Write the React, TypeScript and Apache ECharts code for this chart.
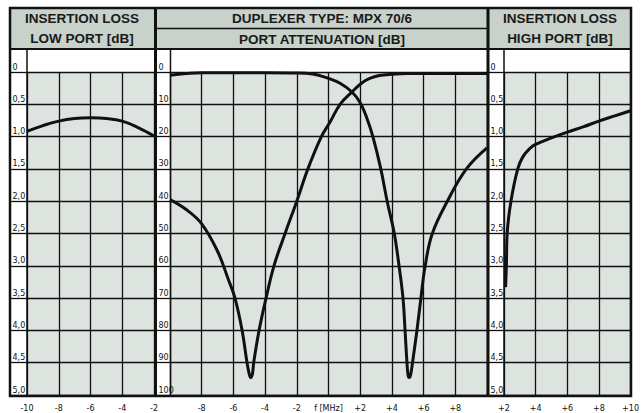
import React, { useEffect, useRef } from "react";
import * as echarts from "echarts";

// Low port insertion loss (dB) vs frequency offset (MHz)
const lowF = [-10, -9, -8, -7, -6, -5, -4, -3, -2];
const lowLoss = [0.92, 0.83, 0.76, 0.72, 0.71, 0.72, 0.76, 0.86, 0.99];

// Port attenuation (dB) – low port curve
const attLowF = [-10, -9, -8, -7, -6.3, -5.9, -5.45, -5.14, -5.0, -4.9, -4.8, -4.72, -4.38, -3.94, -3.44, -2.74, -2, -1.3, -0.45, 0.1, 0.73, 1.48, 2.1, 2.6, 3.2, 4, 5, 10];
const attLowDb = [39.5, 42.5, 47, 55.5, 64.5, 70, 80, 90, 93.5, 94.6, 93.5, 90, 80, 70, 60, 50, 40, 30, 20, 15.5, 10, 6.2, 3.4, 2, 1.1, 0.7, 0.5, 0.5];

// Port attenuation (dB) – high port curve
const attHighF = [-10, -9, -8, -6, -4, -2, -1, -0.5, 0, 0.73, 1.48, 2.0, 2.4, 2.8, 3.3, 3.7, 4.15, 4.45, 4.7, 4.83, 4.95, 5.02, 5.1, 5.18, 5.3, 5.58, 5.83, 6.1, 6.55, 7.5, 8.7, 10];
const attHighDb = [1.0, 0.5, 0.2, 0.2, 0.2, 0.3, 0.6, 1.2, 2.0, 3.5, 6.2, 9.5, 14, 20, 30, 40, 50, 60, 70, 80, 90, 93.8, 94.6, 93.8, 90, 80, 70, 60, 50, 40, 30, 23.5];

// High port insertion loss (dB)
const highF = [2.1, 2.15, 2.2, 2.44, 2.87, 3.2, 3.65, 4, 5, 6, 7, 8, 9, 10];
const highLoss = [3.33, 3.0, 2.5, 2.0, 1.5, 1.31, 1.18, 1.12, 1.02, 0.93, 0.85, 0.76, 0.68, 0.6];

const headerLeft = ["INSERTION LOSS", "LOW PORT [dB]"];
const headerMid = ["DUPLEXER TYPE: MPX 70/6", "PORT ATTENUATION [dB]"];
const headerRight = ["INSERTION LOSS", "HIGH PORT [dB]"];

const zip = (xs: number[], ys: number[]) => xs.map((x, i) => [x, ys[i]]);

export default function App() {
  const ref = useRef<HTMLDivElement>(null);
  useEffect(() => {
    if (!ref.current) return;
    const chart = echarts.init(ref.current, null, { renderer: "svg" });
    const TOP = 72;
    const H = 323;
    const plotBg = "#dde3df";
    const ink = "#111";
    const tickFont = { fontSize: 8, color: ink, fontFamily: "'DejaVu Sans', sans-serif" };
    const split = { show: true, lineStyle: { color: ink, width: 1.3 } };

    const grids = [
      { left: 11, top: TOP, width: 16, height: H }, // 0 L labels
      { left: 27, top: TOP, width: 127, height: H, show: true, backgroundColor: plotBg, borderWidth: 0 }, // 1 L plot
      { left: 157, top: TOP, width: 13, height: H }, // 2 M labels
      { left: 170, top: TOP, width: 317, height: H, show: true, backgroundColor: plotBg, borderWidth: 0 }, // 3 M plot
      { left: 489, top: TOP, width: 15, height: H }, // 4 R labels
      { left: 504, top: TOP, width: 127, height: H, show: true, backgroundColor: plotBg, borderWidth: 0 }, // 5 R plot
    ];

    const lossFmt = (v: number) => (v === 0 ? "0" : v.toFixed(1).replace(".", ","));
    const labelY = (gi: number, max: number, interval: number, fmt: (v: number) => string) => ({
      gridIndex: gi,
      type: "value",
      inverse: true,
      min: 0,
      max,
      interval,
      axisLine: { show: false },
      axisTick: { show: false },
      splitLine: split,
      z: 10,
      axisLabel: { inside: true, margin: 1.5, verticalAlign: "bottom", align: "left", formatter: fmt, ...tickFont, padding: [0, 0, 1, 0] },
    });
    const plotY = (gi: number, max: number, interval: number) => ({
      gridIndex: gi,
      type: "value",
      inverse: true,
      min: 0,
      max,
      interval,
      axisLine: { show: false },
      axisTick: { show: false },
      splitLine: split,
      axisLabel: { show: false },
    });
    const hiddenX = (gi: number) => ({ gridIndex: gi, type: "value", show: false, min: 0, max: 1 });
    const plotX = (gi: number, min: number, max: number, fmt: (v: number) => string) => ({
      gridIndex: gi,
      type: "value",
      position: "bottom",
      min,
      max,
      interval: 2,
      axisLine: { show: false },
      axisTick: { show: false },
      splitLine: split,
      axisLabel: { margin: 9, formatter: fmt, showMinLabel: true, showMaxLabel: true, ...tickFont },
    });

    const lineSeries = (gi: number, data: number[][]) => ({
      type: "line",
      xAxisIndex: gi,
      yAxisIndex: gi,
      data,
      showSymbol: false,
      smooth: 0.4,
      lineStyle: { color: ink, width: 3 },
      z: 5,
    });

    const headerFont = "bold 13.5px 'Liberation Sans', Arial, sans-serif";
    const hText = (text: string, x: number, y: number) => ({
      type: "text",
      z: 20,
      style: { text, x, y, textAlign: "center", textVerticalAlign: "middle", font: headerFont, fill: "#1a1a1a" },
    });
    const vline = (x: number, y1: number, y2: number, w: number) => ({
      type: "line",
      z: 30,
      shape: { x1: x, y1, x2: x, y2 },
      style: { stroke: ink, lineWidth: w },
    });
    const hline = (y: number, x1: number, x2: number, w: number) => ({
      type: "line",
      z: 30,
      shape: { x1, y1: y, x2, y2: y },
      style: { stroke: ink, lineWidth: w },
    });

    chart.setOption({
      animation: false,
      grid: grids,
      xAxis: [
        hiddenX(0),
        plotX(1, -10, -2, (v: number) => String(v)),
        hiddenX(2),
        plotX(3, -10, 10, (v: number) => (v === -10 || v === 10 ? "" : v === 0 ? "f [MHz]" : v > 0 ? "+" + v : String(v))),
        hiddenX(4),
        plotX(5, 2, 10, (v: number) => "+" + v),
      ],
      yAxis: [
        labelY(0, 5, 0.5, lossFmt),
        plotY(1, 5, 0.5),
        labelY(2, 100, 10, (v: number) => String(v)),
        plotY(3, 100, 10),
        labelY(4, 5, 0.5, lossFmt),
        plotY(5, 5, 0.5),
      ],
      series: [
        lineSeries(1, zip(lowF, lowLoss)),
        lineSeries(3, zip(attLowF, attLowDb)),
        lineSeries(3, zip(attHighF, attHighDb)),
        lineSeries(5, zip(highF, highLoss)),
      ],
      graphic: [
        { type: "rect", z: 1, shape: { x: 10, y: 8, width: 621, height: 41 }, style: { fill: "#c8d1ca" } },
        hText(headerLeft[0], 82, 18.5),
        hText(headerLeft[1], 82, 38.5),
        hText(headerMid[0], 322, 18.5),
        hText(headerMid[1], 322, 39),
        hText(headerRight[0], 560, 18.5),
        hText(headerRight[1], 560, 38.5),
        hline(49, 10, 631, 2),
        hline(28.5, 155, 488, 1.5),
        vline(27, 49, 396, 1.5),
        vline(170.5, 49, 396, 1.5),
        vline(504, 49, 396, 1.5),
        vline(155.5, 8, 396, 3),
        vline(488, 8, 396, 3),
        { type: "rect", z: 30, shape: { x: 10, y: 8, width: 621, height: 388 }, style: { fill: "none", stroke: ink, lineWidth: 2.5 } },
      ],
    });
    return () => chart.dispose();
  }, []);
  return <div ref={ref} style={{ position: "absolute", left: 0, top: 0, width: 642, height: 413 }} />;
}
